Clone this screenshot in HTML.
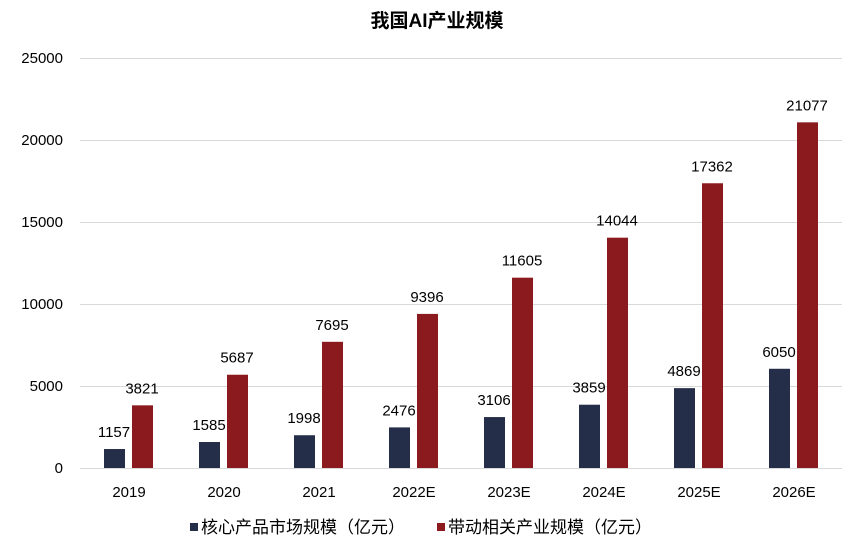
<!DOCTYPE html>
<html><head><meta charset="utf-8"><style>
body{margin:0;background:#fff;}
svg text{font-family:"Liberation Sans","Noto Sans CJK SC",sans-serif;}
</style></head><body>
<svg width="865" height="547" xmlns="http://www.w3.org/2000/svg">
<rect width="865" height="547" fill="#fff"/>
<text x="437" y="27" text-anchor="middle" font-size="19" font-weight="bold" fill="#000">我国AI产业规模</text>
<g stroke="#d9d9d9" stroke-width="1">
<line x1="80" x2="842" y1="58.5" y2="58.5"/>
<line x1="80" x2="842" y1="140.5" y2="140.5"/>
<line x1="80" x2="842" y1="222.5" y2="222.5"/>
<line x1="80" x2="842" y1="304.5" y2="304.5"/>
<line x1="80" x2="842" y1="386.5" y2="386.5"/>
<line x1="80" x2="842" y1="468.5" y2="468.5"/>
</g>
<g font-size="15" fill="#000" text-anchor="end">
<text x="63" y="63">25000</text>
<text x="63" y="145">20000</text>
<text x="63" y="227">15000</text>
<text x="63" y="309">10000</text>
<text x="63" y="391">5000</text>
<text x="63" y="473">0</text>
</g>
<g id="bars"></g>
<g font-size="15" fill="#000" text-anchor="middle" id="lbl"></g>
<rect x="190" y="523" width="8" height="8" fill="#252e48"/>
<text x="201" y="533" font-size="17" fill="#000">核心产品市场规模（亿元）</text>
<rect x="437" y="523" width="8" height="8" fill="#8b1a1f"/>
<text x="448" y="533" font-size="17" fill="#000">带动相关产业规模（亿元）</text>
<script>
var d=[1157,1585,1998,2476,3106,3859,4869,6050],r=[3821,5687,7695,9396,11605,14044,17362,21077],c=["2019","2020","2021","2022E","2023E","2024E","2025E","2026E"];
var b=document.getElementById("bars"),l=document.getElementById("lbl"),ns="http://www.w3.org/2000/svg";
function y(v){return 468-v*0.0164;}
function rect(x,v,f){var e=document.createElementNS(ns,"rect");e.setAttribute("x",x);e.setAttribute("y",y(v));e.setAttribute("width",21);e.setAttribute("height",468-y(v));e.setAttribute("fill",f);b.appendChild(e);}
function txt(x,yy,s){var e=document.createElementNS(ns,"text");e.setAttribute("x",x);e.setAttribute("y",yy);e.textContent=s;l.appendChild(e);}
for(var i=0;i<8;i++){var x=104+95*i;rect(x,d[i],"#252e48");rect(x+28,r[i],"#8b1a1f");
txt(x+10,y(d[i])-12,d[i]);txt(x+38,y(r[i])-12,r[i]);txt(x+25,497,c[i]);}
</script>
</svg>
</body></html>
